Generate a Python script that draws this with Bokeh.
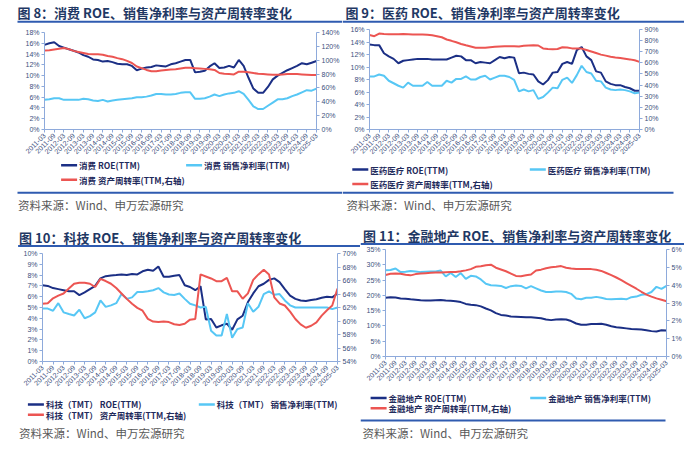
import math
from bokeh.plotting import figure
from bokeh.models import (Range1d, LinearAxis, FixedTicker, PrintfTickFormatter,
                          Label, BoxAnnotation)
from bokeh.layouts import row, column
from bokeh.embed import file_html
from bokeh.resources import INLINE

# ---------------- data ----------------
periods = ["2011-03", "2011-09", "2012-03", "2012-09", "2013-03", "2013-09", "2014-03", "2014-09",
           "2015-03", "2015-09", "2016-03", "2016-09", "2017-03", "2017-09", "2018-03", "2018-09",
           "2019-03", "2019-09", "2020-03", "2020-09", "2021-03", "2021-09", "2022-03", "2022-09",
           "2023-03", "2023-09", "2024-03", "2024-09", "2025-03"]

cons_roe = [15.7, 16.0, 16.2, 15.5, 15.2, 14.9, 14.6, 14.3, 13.8, 13.5,
            13.0, 12.9, 12.6, 12.7, 12.5, 12.2, 12.1, 12.1, 11.8, 11.0,
            11.3, 11.5, 11.6, 11.9, 11.8, 11.7, 12.1, 12.3, 12.6, 12.9,
            12.9, 10.6, 10.7, 10.9, 11.7, 12.3, 11.4, 11.5, 11.8, 11.5,
            12.9, 11.8, 9.6, 7.6, 6.8, 6.8, 7.9, 9.3, 10.0, 10.5,
            11.0, 11.4, 11.8, 12.3, 12.1, 12.4, 12.7]
cons_npm = [5.5, 5.6, 5.8, 5.8, 5.5, 5.5, 5.5, 5.5, 5.7, 5.6,
            5.4, 5.3, 5.5, 5.2, 5.4, 5.5, 5.6, 5.7, 5.8, 6.0,
            6.0, 6.1, 6.3, 6.6, 6.6, 6.5, 6.5, 6.6, 6.8, 6.9,
            6.9, 5.7, 5.7, 5.8, 6.1, 6.5, 6.2, 6.5, 6.7, 6.8,
            7.1, 6.6, 5.5, 4.3, 3.8, 3.8, 4.4, 5.0, 5.6, 5.6,
            5.8, 6.2, 6.5, 6.9, 7.3, 7.2, 7.6]
cons_ato = [114, 114.5, 115.5, 116.5, 117.5, 116, 113.5, 112, 110.5, 109,
            108.5, 108.5, 108, 106, 105, 103, 101.5, 99, 96, 91,
            88.5, 86, 84, 84, 85, 86, 86.5, 87, 88, 89,
            89, 88.5, 88, 87.5, 87, 86, 81.5, 80.5, 80, 79.5,
            83.5, 83.5, 82.5, 81.5, 80.5, 80, 79.5, 79, 79, 79.5,
            80, 80, 80, 79.5, 79, 78.5, 78.5]

phar_roe = [13.6, 13.5, 13.5, 12.2, 11.7, 11.3, 10.6, 11.0, 11.1, 11.2,
            11.3, 11.3, 11.3, 11.2, 11.2, 11.2, 11.2, 11.5, 11.8, 11.7,
            11.1, 11.1, 10.6, 10.8, 10.7, 10.6, 11.1, 11.6, 11.4, 11.6,
            11.5, 9.0, 9.1, 8.9, 8.8, 7.7, 7.2, 7.9, 9.1, 9.2,
            10.5, 10.8, 10.5, 12.7, 13.2, 11.7, 11.1, 9.3, 9.1, 7.7,
            7.3, 7.1, 7.1, 6.8, 6.6, 6.2, 6.2]
phar_npm = [8.5, 8.5, 8.8, 8.6, 7.8, 7.4, 7.0, 6.7, 7.5, 7.0,
            7.0, 7.0, 7.6, 7.0, 7.0, 7.0, 7.8, 7.5, 8.1, 8.1,
            8.5, 8.0, 8.0, 8.4, 8.6, 8.0, 8.3, 8.6, 8.6, 8.4,
            7.95, 6.1, 6.4, 6.1, 6.3, 4.9, 5.2, 5.9, 6.7, 6.6,
            7.95, 8.3, 7.45, 8.7, 10.2, 9.2, 8.96, 7.8, 7.7, 6.7,
            6.4, 6.3, 6.4, 6.3, 6.1, 5.8, 5.9]
phar_ato = [85, 84, 86.3, 86, 85.8, 85.8, 85.8, 85.9, 85.7, 85.5,
            85.6, 85.5, 85.3, 84.8, 84, 83, 81, 79.8, 78.5, 77,
            75.8, 74.7, 73.6, 73.5, 73.6, 74, 74.4, 74.7, 75, 75,
            75, 74.8, 75.3, 75.6, 75.9, 75.6, 73, 72.4, 72.2, 72.4,
            74, 73.8, 73, 72.8, 72.8, 71.6, 70.2, 68.8, 67.4, 66.5,
            65.4, 64.8, 64.3, 63.7, 63.1, 62.3, 60.9]

tech_roe = [7.06, 7.0, 6.8, 6.7, 6.6, 6.5, 6.5, 6.15, 6.4, 6.7,
            7.0, 7.7, 7.9, 7.97, 8.0, 8.06, 8.0, 8.1, 8.06, 8.35,
            8.5, 8.4, 8.8, 7.85, 7.85, 7.94, 8.0, 7.06, 6.9, 6.6,
            6.97, 3.9, 3.94, 3.15, 3.35, 3.5, 2.94, 3.9, 4.24, 5.5,
            6.3, 6.97, 7.2, 7.56, 7.7, 7.35, 6.7, 6.1, 5.8, 5.65,
            5.6, 5.7, 5.76, 5.9, 6.0, 5.94, 6.3]
tech_npm = [4.9, 4.9, 4.7, 5.4, 4.55, 4.4, 4.26, 4.8, 4.0, 4.2,
            4.55, 5.65, 5.06, 5.2, 5.4, 6.24, 5.8, 5.94, 6.44, 6.44,
            6.5, 6.6, 6.8, 6.4, 6.2, 6.15, 6.3, 5.8, 5.35, 5.2,
            5.0, 5.06, 2.85, 2.4, 2.4, 4.4, 2.2, 3.0, 3.15, 5.4,
            4.6, 5.06, 6.24, 6.5, 6.18, 6.24, 5.65, 5.2, 5.0, 5.0,
            5.0, 5.0, 5.0, 5.0, 5.0, 4.85, 5.0]
tech_ato = [62.56, 62.64, 63.36, 63.76, 64.08, 64.8, 65.52, 65.68, 65.68, 65.52,
            65.04, 66.24, 65.92, 65.52, 64.88, 64.08, 63.28, 62.56, 61.95, 61.52,
            60.32, 59.92, 59.84, 59.92, 59.84, 59.52, 59.4, 59.6, 60.2, 60.3,
            66.9, 66.6, 66.3, 65.9, 65.9, 66.4, 64.4, 64.4, 63.3, 64.1,
            66.1, 66.9, 67.6, 66.9, 63.5, 62.6, 62.3, 61.4, 60.3, 59.5,
            59.0, 59.3, 59.8, 60.8, 61.6, 62.3, 64.8]

fin_roe = [19.2, 19.4, 19.3, 19.0, 18.9, 18.7, 18.6, 18.4, 18.3, 18.3,
           18.4, 18.5, 18.3, 18.2, 18.1, 17.8, 17.2, 16.9, 16.8, 16.4,
           15.7, 15.1, 14.2, 13.6, 13.4, 13.1, 13.0, 12.9, 12.8, 12.8,
           12.7, 12.5, 12.1, 11.9, 12.1, 12.2, 12.1, 11.6, 10.8, 10.4,
           10.4, 10.6, 10.6, 10.7, 10.4, 9.9, 9.6, 9.4, 9.2, 9.0,
           8.9, 8.8, 8.6, 8.3, 8.2, 8.6, 8.5]
fin_npm = [28.2, 28.3, 28.8, 27.6, 27.7, 28.0, 27.8, 27.6, 27.7, 27.8,
           27.8, 28.1, 26.2, 27.3, 26.0, 27.3, 25.4, 26.4, 26.2, 25.2,
           23.8, 23.3, 23.2, 23.1, 22.4, 23.0, 23.2, 23.1, 22.3, 23.0,
           22.3, 21.6, 21.1, 21.1, 21.3, 21.3, 21.1, 20.5, 19.0, 18.7,
           19.2, 19.2, 19.5, 19.2, 18.8, 18.7, 18.8, 18.9, 18.7, 19.4,
           19.6, 20.2, 20.4, 21.1, 22.8, 22.1, 23.1]
fin_ato = [4.57, 4.64, 4.65, 4.64, 4.58, 4.55, 4.62, 4.65, 4.67, 4.69,
           4.71, 4.71, 4.73, 4.74, 4.74, 4.78, 4.83, 4.9, 5.03, 5.06,
           5.12, 5.15, 4.98, 4.88, 4.78, 4.65, 4.52, 4.5, 4.55, 4.6,
           4.82, 4.87, 4.95, 5.0, 5.03, 5.07, 4.98, 4.93, 4.9, 4.9,
           4.9, 4.9, 4.86, 4.8, 4.68, 4.56, 4.43, 4.28, 4.12, 3.96,
           3.8, 3.63, 3.47, 3.36, 3.26, 3.18, 3.1]

titles = ["图 8：消费 ROE、销售净利率与资产周转率变化",
          "图 9：医药 ROE、销售净利率与资产周转率变化",
          "图 10：科技 ROE、销售净利率与资产周转率变化",
          "图 11：金融地产 ROE、销售净利率与资产周转率变化"]
legend_labels = [
    ["消费 ROE(TTM)", "消费 销售净利率(TTM)", "消费 资产周转率(TTM,右轴)"],
    ["医药医疗 ROE(TTM)", "医药医疗 销售净利率(TTM)", "医药医疗 资产周转率(TTM,右轴)"],
    ["科技（TMT） ROE(TTM)", "科技（TMT） 销售净利率(TTM)", "科技（TMT） 资产周转率(TTM,右轴)"],
    ["金融地产 ROE(TTM)", "金融地产 销售净利率(TTM)", "金融地产 资产周转率(TTM,右轴)"],
]
source_text = "资料来源：Wind、申万宏源研究"

# ---------------- style ----------------
ROE_C = "#1b2f85"
NPM_C = "#57c7f5"
ATO_C = "#ec5552"
SERIES_C = [ROE_C, NPM_C, ATO_C]
AXIS_C = "#8eaadb"
TICK_C = "#3d4f7c"
TITLE_C = "#1f3864"
RULE_C = "#2f5bb0"
LEG_C = "#1f2b5c"
SRC_C = "#595959"
CJK = "Noto Sans CJK SC"
LAT = "Liberation Sans"


def style_axis(ax):
    ax.axis_line_color = AXIS_C
    ax.axis_line_width = 1
    ax.major_tick_line_color = AXIS_C
    ax.major_tick_out = 3
    ax.major_tick_in = 0
    ax.minor_tick_line_color = None
    ax.major_label_text_font = LAT
    ax.major_label_text_font_size = "7px"
    ax.major_label_text_color = TICK_C
    ax.major_label_standoff = 2


def blank_fig(W, H):
    f = figure(width=W, height=H, output_backend="svg", toolbar_location=None,
               x_range=Range1d(0, W), y_range=Range1d(0, H),
               x_axis_location=None, y_axis_location=None, frame_align=False,
               min_border=0, min_border_left=0, min_border_right=0,
               min_border_top=0, min_border_bottom=0,
               background_fill_color="white", border_fill_color="white", outline_line_color=None)
    f.xgrid.visible = False
    f.ygrid.visible = False
    return f


def hbar(f, H, y, x0, x1, color, thick):
    # horizontal bar annotation; y measured from the top of the small figure
    f.add_layout(BoxAnnotation(left=x0, right=x1, top=H - (y - thick / 2), bottom=H - (y + thick / 2),
                               fill_color=color, fill_alpha=1, line_color=None))


def make_panel(title, labels, roe, npm, ato, left, right, lay):
    W = lay["W"]
    # ---- header: title + rule ----
    hh = lay["hh"]
    head = blank_fig(W, hh)
    tx, ty = lay["title"]
    head.add_layout(Label(x=tx, y=hh - ty, text=title,
                          text_font=CJK, text_font_size="13px", text_font_style="bold",
                          text_color=TITLE_C, text_baseline="middle", text_align="left"))
    ry_, rx0, rx1 = lay["rule1"]
    hbar(head, hh, ry_, rx0, rx1, RULE_C, 2)

    # ---- main chart ----
    fl, fr, ft, fh, fb = lay["fl"], lay["fr"], lay["ft"], lay["fh"], lay["fb"]
    n = len(roe)
    xs = list(range(n))
    lo, hi, st = left
    rlo, rhi, rst = right
    p = figure(width=W, height=ft + fh + fb, output_backend="svg", toolbar_location=None,
               x_range=Range1d(0, n - 1), y_range=Range1d(lo, hi), frame_align=False,
               min_border_left=fl, min_border_right=fr, min_border_top=ft, min_border_bottom=fb,
               background_fill_color="white", border_fill_color="white", outline_line_color=None)
    p.extra_y_ranges = {"right": Range1d(rlo, rhi)}
    p.xgrid.visible = False
    p.ygrid.visible = False
    p.line(xs, roe, color=ROE_C, line_width=2)
    p.line(xs, npm, color=NPM_C, line_width=2)
    p.line(xs, ato, color=ATO_C, line_width=2, y_range_name="right")

    p.yaxis.ticker = FixedTicker(ticks=list(range(lo, hi + 1, st)))
    p.yaxis.formatter = PrintfTickFormatter(format="%d%%")
    rax = LinearAxis(y_range_name="right", ticker=FixedTicker(ticks=list(range(rlo, rhi + 1, rst))),
                     formatter=PrintfTickFormatter(format="%d%%"))
    p.add_layout(rax, "right")
    tick_pos = [2 * i for i in range(len(periods))]
    p.xaxis.ticker = FixedTicker(ticks=tick_pos)
    p.xaxis.major_label_overrides = dict(zip(tick_pos, periods))
    p.xaxis.major_label_orientation = math.pi / 4
    for ax in list(p.xaxis) + list(p.yaxis) + [rax]:
        style_axis(ax)

    # ---- footer: legend + rule + source ----
    hf = lay["hf"]
    foot = blank_fig(W, hf)
    (r1y, r2y), (c0x, c1x) = lay["leg_rows"], lay["leg_cols"]
    slots = [(c0x, r1y), (c1x, r1y), (c0x, r2y)]
    for lab, c, (gx, gy) in zip(labels, SERIES_C, slots):
        hbar(foot, hf, gy, gx, gx + 16, c, 2.5)
        foot.add_layout(Label(x=gx + 18, y=hf - gy, text=lab,
                              text_font=CJK, text_font_size="8.5px", text_font_style="bold",
                              text_color=LEG_C, text_baseline="middle", text_align="left"))
    if lay["rule2"] is not None:
        ry2, rx0, rx1 = lay["rule2"]
        hbar(foot, hf, ry2, rx0, rx1, RULE_C, 2)
    sx_, sy_ = lay["source"]
    foot.add_layout(Label(x=sx_, y=hf - sy_, text=source_text,
                          text_font=CJK, text_font_size="11.5px", text_color=SRC_C,
                          text_baseline="middle", text_align="left"))
    return column(head, p, foot)


# panel geometry (px); footer y values are measured from the footer's top
lay8 = dict(W=342, hh=27, title=(17, 11.6), rule1=(21.2, 17, 342),
            fl=44, fr=25, ft=5, fh=99, fb=28,
            hf=65, leg_rows=(5.8, 20.3), leg_cols=(60.6, 185.6),
            rule2=(33.3, 17, 342), source=(17.6, 45.4))
lay9 = dict(W=342, hh=24, title=(2.9, 11.6), rule1=(21.2, 0, 342),
            fl=27, fr=45, ft=5, fh=102, fb=28,
            hf=65, leg_rows=(10, 24.5), leg_cols=(9.8, 187.3),
            rule2=(33.3, 0, 331), source=(3.9, 45.7))
lay10 = dict(W=360, hh=24, title=(18.6, 12.5), rule1=(21.5, 17.6, 360),
             fl=42, fr=23, ft=5, fh=110, fb=28,
             hf=57, leg_rows=(12.9, 23.2), leg_cols=(27.4, 198.3),
             rule2=None, source=(18.6, 41.8))
lay11 = dict(W=324, hh=21, title=(2.6, 10.5), rule1=(19.5, 0, 324),
             fl=25, fr=18, ft=4, fh=109, fb=28,
             hf=62, leg_rows=(11.5, 21.7), leg_cols=(10.1, 169.7),
             rule2=(34, 0, 305), source=(2, 46.8))

c8 = make_panel(titles[0], legend_labels[0], cons_roe, cons_npm, cons_ato, (0, 18, 2), (0, 140, 20), lay8)
c9 = make_panel(titles[1], legend_labels[1], phar_roe, phar_npm, phar_ato, (0, 16, 2), (0, 90, 10), lay9)
c10 = make_panel(titles[2], legend_labels[2], tech_roe, tech_npm, tech_ato, (0, 10, 1), (54, 70, 2), lay10)
c11 = make_panel(titles[3], legend_labels[3], fin_roe, fin_npm, fin_ato, (0, 35, 5), (0, 6, 1), lay11)

layout = column(row(c8, c9), row(c10, c11))
open("out.html", "w").write(file_html(layout, INLINE))
